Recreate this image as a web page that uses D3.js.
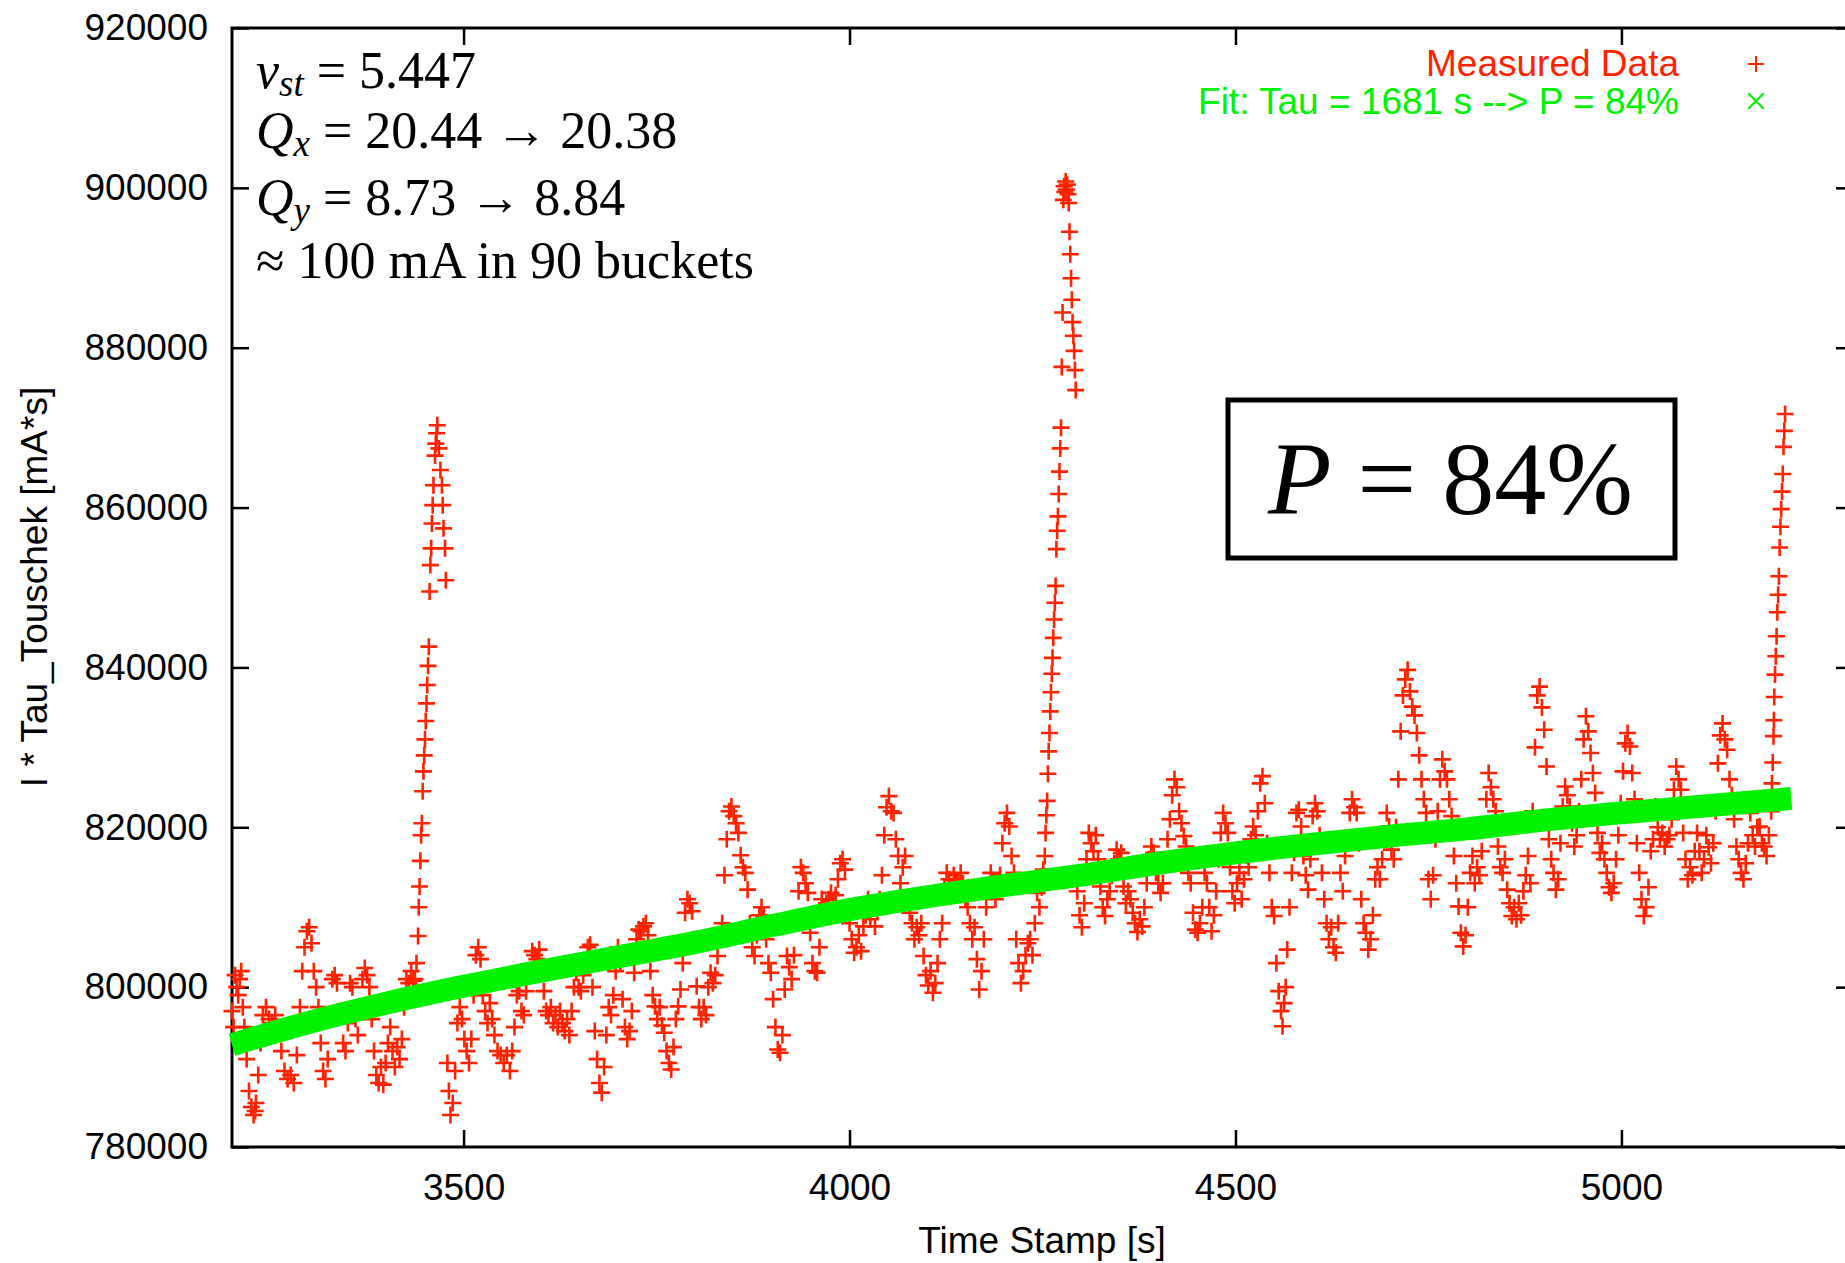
<!DOCTYPE html>
<html>
<head>
<meta charset="utf-8">
<script src="https://cdn.jsdelivr.net/npm/d3@7"></script>
<style>
  html, body { margin: 0; padding: 0; background: #fff; }
  svg { display: block; }
</style>
</head>
<body>
<svg id="chart" width="1845" height="1263"></svg>
<script>
// tick positions
const xTicks = [3500, 4000, 4500, 5000];
const yTicks = [780000, 800000, 820000, 840000, 860000, 880000, 900000, 920000];

// measured I*tau, [time stamp in s, value in units of 1000 mA*s]
const measured = [
  [3200,797],[3202,795],[3204,801.5],[3206,800],[3208,799],[3210,801],[3212,802],[3214,797.5],[3216,795],[3219,791],
  [3222,787],[3225,785],[3228,784],[3230,784.5],[3231,785.5],[3234,789],[3237,793],[3240,796.5],[3244,797.5],[3248,796],
  [3252,795.5],[3256,796.5],[3260,795],[3264,792],[3268,789.5],[3272,788.5],[3276,789],[3280,788],[3284,791.5],[3288,797.5],
  [3291,802],[3294,805],[3297,807],[3300,807.5],[3303,805.5],[3306,802],[3309,800],[3312,797.5],[3315,793],[3318,789.5],
  [3321,788.5],[3324,791],[3327,796],[3330,801],[3333,801.5],[3336,800.5],[3340,797],[3344,793],[3347,792],[3350,795.5],
  [3353,800.5],[3356,800],[3360,796],[3363,794],[3366,797.5],[3369,801],[3372,802.4],[3375,801.5],[3378,800],[3381,796],
  [3384,792],[3387,789],[3390,788],[3393,790],[3396,787.8],[3399,790.5],[3402,793],[3405,795],[3408,792],[3411,790],
  [3414,792.5],[3417,791],[3420,793.5],[3423,797.5],[3426,801],[3429,800.5],[3432,802],[3435,800.8],
  // first spike
  [3437,801],[3439,803],[3441,806.4],[3442,810],[3443,812.6],[3444,815.8],[3445,819],[3446,820.5],[3447,824.5],[3448,827],
  [3449,829],[3450,831],[3451,833.3],[3452,835.5],[3453,837.8],[3454,840.2],[3455,842.6],[3456,849.5],[3457,852.8],[3458,854.9],
  [3459,858],[3460,860.3],[3461,862.8],[3463,866.5],[3464,868],[3465,869.3],[3466,870.3],[3468,867.4],[3470,864.7],[3472,862.8],
  [3473,860.3],[3474,857.4],[3476,854.9],[3477,850.9],[3479,790.5],[3481,787],[3483,784],[3486,785.5],[3489,789.5],
  [3492,795.5],[3495,797.5],[3498,796],[3501,793.5],[3504,792],[3507,790.5],[3510,793.5],[3513,799],[3516,804],[3519,805],
  [3522,803.5],[3525,799],[3528,797],[3531,795.5],[3534,798],[3537,796],[3540,794],[3544,792],[3548,791.5],[3552,790.5],
  [3556,791.5],[3560,789.5],[3563,792],[3566,795],[3569,799],[3572,799.5],[3575,797],[3578,796.5],[3581,799.5],[3585,802],
  [3589,804.5],[3592,804],[3595,803.5],[3598,804.7],[3601,802],[3604,799.5],[3607,797],[3610,796.5],[3613,797.5],[3616,795.5],
  [3619,796.5],[3622,795],[3625,797],[3628,795.5],[3631,794.5],[3634,796],[3637,794],[3640,797],[3643,800],[3646,801.8],
  [3649,800],[3652,799.5],[3655,801.5],[3658,803],[3661,805],[3664,805.3],[3667,800],[3670,794.5],[3673,791],[3676,788],
  [3679,786.8],[3682,790],[3685,794],[3688,797.5],[3691,796.5],[3694,799],[3697,802],[3700,805],[3703,803],[3706,798.5],
  [3709,795],[3712,793.5],[3715,794.5],[3718,797],[3721,801.8],[3724,806],[3727,807.2],[3730,807],[3733,807.6],[3736,808],
  [3739,806.5],[3742,802],[3745,799],[3748,797.6],[3751,796],[3754,797.5],[3757,795.2],[3760,794.3],[3763,792],[3766,790.5],
  [3769,789.7],[3772,792.5],[3775,796],[3778,797.6],[3781,799.7],[3784,803],[3787,809.3],[3790,811],[3793,810.5],[3796,809.5],
  [3799,806],[3802,800.1],[3805,797.5],[3808,796],[3811,797.5],[3814,796.5],[3817,800],[3820,801.8],[3823,800.5],[3826,801.5],
  [3829,803.9],[3832,806],[3835,808],[3838,814],[3841,818.5],[3844,822],[3847,822.6],[3850,821.4],[3853,820.5],[3856,819.3],
  [3859,816.5],[3862,815],[3865,814.3],[3868,812.2],[3871,808],[3874,805],[3877,803.9],[3880,806.5],[3883,809],[3886,810],
  [3889,808.9],[3892,806],[3895,803],[3898,801.8],[3901,798.5],[3904,795],[3907,792.2],[3910,791.8],[3913,794],[3916,799.7],
  [3919,803.9],[3922,802.5],[3925,801],[3928,804],[3931,808],[3934,812],[3937,815],[3940,814.3],[3943,813],[3946,811.8],
  [3949,806.8],[3952,803],[3955,802],[3958,801.8],[3961,805],[3964,811],[3967,810],[3970,810.5],[3973,811],[3976,811.8],
  [3979,810.5],[3982,811.5],[3985,813.5],[3988,815.5],[3991,816],[3994,814.7],[3997,810],[4000,808],[4003,806],[4006,804.3],
  [4009,805],[4012,806.5],[4015,804.5],[4018,807.6],[4021,809],[4024,811],[4027,808.5],[4030,810],[4033,807.6],[4036,809.5],
  [4039,811],[4042,814],[4045,819],[4048,822.5],[4051,823.9],[4054,822],[4057,821.8],[4060,818.5],[4063,816.4],[4066,813],
  [4069,815],[4072,816.4],[4075,811],[4078,809.3],[4081,808],[4084,806],[4087,807.5],[4090,806.5],[4093,808],[4096,803.9],
  [4099,801.5],[4102,800.2],[4105,802],[4108,799.3],[4111,800.5],[4114,803],[4117,806],[4120,808],[4123,812.6],[4126,814.3],
  [4129,813.5],[4132,812.6],[4135,814],[4138,813],[4141,812.8],[4144,814.3],[4147,813],[4150,811],[4153,810],[4156,808],
  [4159,806],[4162,807.5],[4165,803.5],[4168,799.7],[4171,802],[4174,806],[4177,810],[4180,812],[4183,814.3],[4186,813],
  [4189,811],[4192,812.5],[4195,814],[4198,818],[4201,820.5],[4204,821.8],[4207,820.1],[4210,816.4],[4213,814.3],[4216,806],
  [4219,803],[4222,800.5],[4225,802],[4228,804],[4231,805.5],[4234,806],[4237,804],[4240,808],[4243,811.8],[4246,810],
  [4249,812.5],[4251,814.7],
  // second spike
  [4253,816.4],[4254,819.3],[4255,821.5],[4256,823.3],[4257,826.7],[4258,829.5],[4259,831.8],[4260,834.5],[4261,836.9],[4262,839.2],
  [4263,841.2],[4264,843.7],[4265,846],[4266,848.1],[4267,850.2],[4268,854.8],[4269,857.1],[4270,858.9],[4271,861.7],[4272,864.5],
  [4273,867.4],[4274,870],[4275,877.6],[4276,884.4],[4277,898.5],[4278,900.2],[4279,899.5],[4280,900.8],[4281,899.8],[4282,900.4],
  [4283,899.2],[4284,898.1],[4285,894.5],[4286,891.7],[4287,888.7],[4288,886],[4289,883.2],[4290,881.5],[4291,879.6],[4292,877.2],
  [4293,874.7],
  [4295,812],[4298,809],[4301,807.5],[4304,810.5],[4307,816],[4310,819.3],[4313,818],[4316,817],[4319,819],[4322,816],
  [4325,812.6],[4328,810],[4331,808.9],[4334,811],[4337,812],[4340,814],[4343,815.5],[4346,817.2],[4349,816],[4352,816.8],
  [4355,812.6],[4358,810.5],[4361,812],[4364,811],[4367,809.3],[4370,808],[4373,806.9],[4376,808.5],[4379,807.6],[4382,810],
  [4385,813],[4388,816],[4391,817.6],[4394,816.8],[4397,814.3],[4400,813],[4403,811.8],[4406,813],[4409,816],[4412,818.5],
  [4415,821],[4418,824],[4421,826],[4424,825],[4427,822],[4430,820.5],[4433,818.9],[4436,817.6],[4439,814.3],[4442,813],
  [4445,809.3],[4448,807.2],[4451,806.8],[4454,808],[4457,810],[4460,814.3],[4463,813],[4466,810],[4469,807],[4472,809],
  [4475,812],[4478,816],[4481,819.3],[4484,821.8],[4487,820.5],[4490,819.3],[4493,815],[4496,812],[4499,810.5],[4502,813],
  [4505,814.3],[4508,811],[4511,813.5],[4514,816.5],[4517,815],[4520,818.5],[4523,820.1],[4526,819],[4529,822],[4532,825.5],
  [4535,826.4],[4538,823],[4541,818],[4544,814.3],[4547,810],[4550,808.9],[4553,803],[4556,799.5],[4559,797],[4561,795.1],
  [4563,798],[4565,800],[4567,804.7],[4570,810],[4573,814.3],[4576,816.8],[4579,821.8],[4582,822.2],[4585,820.1],[4588,816.4],
  [4591,814],[4594,812.2],[4597,816],[4600,821.4],[4603,823],[4606,822],[4609,819],[4612,814.3],[4615,811],[4618,808],
  [4621,806],[4624,807.5],[4627,805],[4630,804.3],[4633,808],[4636,814.3],[4639,812],[4642,816.4],[4645,818],[4648,821.8],
  [4651,823.5],[4654,822.5],[4657,821.8],[4660,818],[4663,811],[4666,808],[4669,806.8],[4672,804.7],[4675,806],[4678,809],
  [4681,813.5],[4684,815],[4687,813.5],[4690,816],[4693,819],[4696,821.8],[4699,820.1],[4702,817.2],[4705,816],[4708,820],
  [4711,826],[4714,832],[4717,836.5],[4720,838.5],[4723,839.7],[4726,837],[4729,835.1],[4732,834],[4735,831.8],[4738,829],
  [4741,826],[4744,823.5],[4747,821.8],[4750,813.5],[4753,811],[4756,814],[4759,818.5],[4762,822],[4765,826],[4768,828.5],
  [4771,827],[4774,826],[4777,823.5],[4780,821.4],[4783,816.4],[4786,813],[4789,810.1],[4792,806.8],[4795,805.1],[4798,806.5],
  [4801,810],[4804,814.3],[4807,816.4],[4810,813],[4813,815],[4816,814],[4819,817],[4822,820],[4825,823.5],[4828,826.8],
  [4831,825],[4834,823.5],[4837,822],[4840,817.6],[4843,815],[4846,814.3],[4849,816],[4852,812.2],[4855,810.5],[4858,808.9],
  [4861,810],[4864,808.5],[4867,810.5],[4870,809],[4873,812],[4876,814],[4879,816.4],[4882,813],[4885,822],[4888,830],
  [4891,836.5],[4894,837.6],[4897,835],[4900,832.2],[4903,827.6],[4906,818.5],[4909,816],[4912,814.3],[4915,812.2],[4918,813.5],
  [4921,818],[4924,822.6],[4927,825.1],[4930,824],[4933,822.6],[4936,820.5],[4939,817.6],[4942,819],[4945,822],[4948,826],
  [4951,831],[4954,833.9],[4957,832],[4960,829.3],[4963,826.8],[4966,824.3],[4969,819.3],[4972,816.8],[4975,818],[4978,816],
  [4981,814.3],[4984,812.5],[4987,811.8],[4990,813],[4993,816],[4996,819],[4999,823],[5002,827],[5005,830.5],[5008,831.8],
  [5011,830.1],[5014,826.8],[5017,823.5],[5020,818],[5023,814.3],[5026,811],[5029,808.9],[5032,810],[5035,812.5],[5038,817],
  [5041,818.5],[5044,822.6],[5047,820],[5050,818.5],[5053,819.3],[5056,817.6],[5059,818.5],[5062,819],[5065,821],[5068,824.7],
  [5071,827.6],[5074,826],[5077,824.7],[5080,819.3],[5083,816],[5086,813.5],[5089,815],[5092,814],[5095,817],[5098,819.3],
  [5101,817],[5104,814.3],[5107,816],[5110,819],[5113,817.5],[5116,815.5],[5119,818],[5122,822],[5125,828],[5128,831.5],
  [5131,833],[5134,831],[5137,829.7],[5140,826],[5143,824],[5146,821],[5149,817.6],[5152,816],[5155,814.3],[5158,813.5],
  [5161,815.5],[5164,818],[5167,821.8],[5170,819],[5173,817.6],[5176,820],[5179,820.1],[5182,818],[5185,817.6],[5188,816.4],
  [5191,819],[5194,822],[5195,825.5],
  // third spike
  [5196,828.1],[5197,831.4],[5197.5,833.4],[5198,836.3],[5199,839.1],[5200,841.4],[5201,843.9],[5202,846.9],[5203,849.1],[5204,851.4],
  [5205,855],[5206,857.6],[5207,859.8],[5208,862],[5209,864.2],[5210,867.6],[5211,869.6],[5212,871.7]
];

// fitted curve, [time stamp in s, value in units of 1000 mA*s]
const fitCurve = [
  [3200,792.8],[3300,795.6],[3400,798.0],[3500,800.1],[3600,802.0],[3700,803.8],[3800,805.6],
  [3900,807.7],[4000,809.7],[4100,811.3],[4200,812.7],[4300,814.0],[4400,815.5],[4500,816.8],
  [4600,817.9],[4700,818.9],[4800,819.8],[4900,820.9],[5000,821.8],[5100,822.6],[5220,823.6]
];

const UNIT = 1000;
const labelLines = ["5.447", "20.44 \u2192 20.38", "8.73 \u2192 8.84", "\u2248 100 mA in 90 buckets"];
const legendLabels = ["Measured Data", "Fit: Tau = 1681 s --> P = 84%"];
const boxLabel = "84%";

const RED = "#ff2200";
const GREEN = "#00f200";
const SANS = '"Liberation Sans", Arial, sans-serif';
const SERIF = '"Liberation Serif", "Times New Roman", serif';

const svg = d3.select("#chart");

const plotLeft = 232, plotRight = 1853, plotTop = 28, plotBottom = 1147;

const x = d3.scaleLinear().domain([3200, 5300]).range([plotLeft, plotRight]);
const y = d3.scaleLinear().domain([780000, 920000]).range([plotBottom, plotTop]);

// axes (ticks point inward, like gnuplot)
function styleAxis(g) {
  g.select(".domain").remove();
  g.selectAll(".tick line").attr("stroke", "#000").attr("stroke-width", 2.5);
  g.selectAll(".tick text")
    .attr("font-family", SANS)
    .attr("font-size", 37)
    .attr("fill", "#000");
}

svg.append("g")
  .attr("transform", `translate(0,${plotBottom})`)
  .call(d3.axisBottom(x).tickValues(xTicks).tickSize(-17).tickPadding(27).tickFormat(d3.format("d")))
  .call(styleAxis);

svg.append("g")
  .attr("transform", `translate(0,${plotTop})`)
  .call(d3.axisTop(x).tickValues(xTicks).tickSize(-17).tickFormat(""))
  .call(styleAxis);

svg.append("g")
  .attr("transform", `translate(${plotLeft},0)`)
  .call(d3.axisLeft(y).tickValues(yTicks).tickSize(-17).tickPadding(24).tickFormat(d3.format("d")))
  .call(styleAxis);

svg.append("g")
  .attr("transform", `translate(${plotRight},0)`)
  .call(d3.axisRight(y).tickValues(yTicks).tickSize(-17).tickFormat(""))
  .call(styleAxis);

// plot border
svg.append("rect")
  .attr("x", plotLeft).attr("y", plotTop)
  .attr("width", plotRight - plotLeft).attr("height", plotBottom - plotTop)
  .attr("fill", "none").attr("stroke", "#000").attr("stroke-width", 3);

// measured data as "+" markers
const plus = "M-8.5,0H8.5M0,-8.5V8.5";
svg.append("g")
  .selectAll("path")
  .data(measured)
  .join("path")
  .attr("d", plus)
  .attr("transform", d => `translate(${x(d[0])},${y(d[1] * UNIT)})`)
  .attr("fill", "none")
  .attr("stroke", RED)
  .attr("stroke-width", 2.6);

// fit, drawn as a thick band
const fitLine = d3.line()
  .x(d => x(d[0]))
  .y(d => y(d[1] * UNIT))
  .curve(d3.curveMonotoneX);

svg.append("path")
  .datum(fitCurve)
  .attr("d", fitLine)
  .attr("fill", "none")
  .attr("stroke", GREEN)
  .attr("stroke-width", 23)
  .attr("stroke-linecap", "butt");

// legend
const legend = svg.append("g").attr("font-family", SANS).attr("font-size", 37);
legend.append("text")
  .attr("x", 1679).attr("y", 76)
  .attr("text-anchor", "end")
  .attr("fill", RED)
  .text(legendLabels[0]);
legend.append("text")
  .attr("x", 1679).attr("y", 114)
  .attr("text-anchor", "end")
  .attr("fill", GREEN)
  .text(legendLabels[1]);
legend.append("path")
  .attr("d", "M-8,0H8M0,-8V8")
  .attr("transform", "translate(1756,64)")
  .attr("stroke", RED).attr("stroke-width", 2);
legend.append("path")
  .attr("d", "M-11,0H11M0,-11V11")
  .attr("transform", "translate(1756,101) rotate(45)")
  .attr("stroke", GREEN).attr("stroke-width", 2);

// parameter text, top left
const info = svg.append("g").attr("font-family", SERIF).attr("font-size", 52).attr("fill", "#000");
const baselines = [88, 148, 215, 278];
const symbols = [["\u03bd", "st"], ["Q", "x"], ["Q", "y"]];

symbols.forEach((s, i) => {
  const t = info.append("text").attr("x", 256).attr("y", baselines[i]);
  t.append("tspan").attr("font-style", "italic").text(s[0]);
  t.append("tspan").attr("font-style", "italic").attr("font-size", 37).attr("dy", 8).text(s[1]);
  t.append("tspan").attr("dy", -8).text(" = " + labelLines[i]);
});
info.append("text").attr("x", 256).attr("y", baselines[3]).text(labelLines[3]);

// boxed result
svg.append("rect")
  .attr("x", 1228).attr("y", 400)
  .attr("width", 447).attr("height", 158)
  .attr("fill", "none").attr("stroke", "#000").attr("stroke-width", 5);

const pText = svg.append("text")
  .attr("x", 1268).attr("y", 514)
  .attr("font-family", SERIF).attr("font-size", 104);
pText.append("tspan").attr("font-style", "italic").text("P");
pText.append("tspan").text(" = " + boxLabel);

// axis titles
svg.append("text")
  .attr("x", 1042).attr("y", 1253)
  .attr("text-anchor", "middle")
  .attr("font-family", SANS).attr("font-size", 37)
  .text("Time Stamp [s]");

svg.append("text")
  .attr("transform", "translate(47,587) rotate(-90)")
  .attr("text-anchor", "middle")
  .attr("font-family", SANS).attr("font-size", 37)
  .text("I * Tau_Touschek [mA*s]");
</script>
</body>
</html>
